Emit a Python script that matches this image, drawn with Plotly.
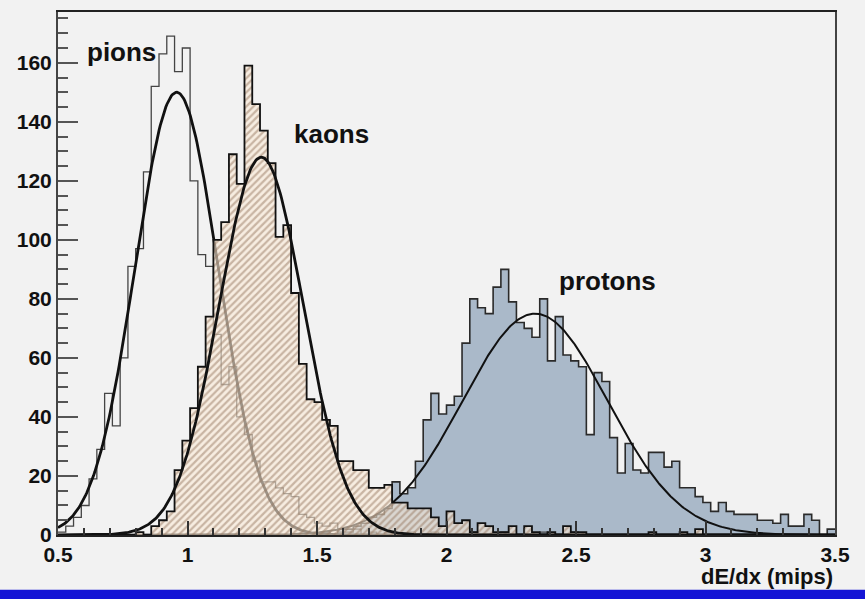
import numpy as np
import plotly.graph_objects as go

# histogram binning: 100 bins from 0.5 to 3.5 (dE/dx in mips)
x_min, x_max, n_bins = 0.5, 3.5, 100

# counts per bin
pions = [1, 3, 6, 10, 19, 29, 48, 37, 60, 91,
         97, 123, 152, 163, 169, 157, 165, 120, 95, 91,
         68, 51, 57, 40, 34, 25, 18, 18, 16, 14,
         13, 7, 6, 4, 3, 4, 1, 1, 2, 0,
         1, 0, 1, 0, 0, 1, 0, 0, 1, 0,
         0, 0, 0, 1, 0, 0, 0, 1, 0, 0,
         0, 0, 1, 0, 0, 0, 1, 0, 0, 0,
         0, 0, 0, 0, 0, 0, 0, 0, 0, 0,
         0, 0, 0, 0, 0, 0, 0, 0, 0, 0,
         0, 0, 0, 0, 0, 0, 0, 0, 0, 0]
kaons = [0, 0, 0, 0, 0, 0, 0, 0, 0, 0,
         1, 0, 3, 5, 8, 22, 32, 43, 57, 74,
         100, 106, 129, 119, 159, 146, 137, 126, 101, 105,
         82, 58, 46, 45, 39, 37, 25, 25, 22, 22,
         16, 16, 17, 11, 11, 9, 9, 9, 6, 3,
         8, 4, 5, 1, 4, 3, 1, 1, 3, 0,
         3, 1, 0, 1, 0, 3, 1, 1, 0, 0,
         0, 0, 0, 0, 0, 0, 1, 0, 0, 0,
         1, 0, 2, 0, 0, 0, 0, 0, 0, 0,
         0, 0, 0, 0, 0, 0, 0, 0, 0, 0]
protons = [0, 0, 0, 0, 0, 0, 0, 0, 0, 0,
           0, 0, 0, 0, 0, 0, 0, 0, 0, 0,
           0, 0, 0, 0, 0, 0, 0, 0, 0, 0,
           0, 0, 0, 0, 1, 0, 2, 2, 3, 4,
           6, 7, 9, 18, 14, 16, 25, 39, 48, 41,
           44, 47, 65, 80, 77, 75, 84, 90, 79, 72,
           70, 67, 80, 59, 74, 61, 59, 57, 34, 55,
           52, 33, 21, 31, 22, 21, 28, 28, 23, 25,
           16, 16, 13, 11, 8, 11, 8, 7, 7, 7,
           5, 5, 4, 7, 3, 3, 7, 5, 0, 2]

# gaussian fit parameters (amplitude, mean, sigma)
pion_fit = [150, 0.958, 0.160]
kaon_fit = [128, 1.285, 0.163]
proton_fit = [75, 2.342, 0.280]

labels = ["pions", "kaons", "protons"]
label_x = [0.747, 1.555, 2.62]
label_y = [163.5, 136, 86]

y_ticks = [0, 20, 40, 60, 80, 100, 120, 140, 160]
x_ticks = [0.5, 1, 1.5, 2, 2.5, 3, 3.5]
x_ticktext = ["0.5", "1", "1.5", "2", "2.5", "3", "3.5"]

edges = np.linspace(x_min, x_max, n_bins + 1)
xf = np.linspace(x_min, x_max, 700)


def steps(counts):
    return list(counts) + [counts[-1]]


def gaus(p):
    return p[0] * np.exp(-0.5 * ((xf - p[1]) / p[2]) ** 2)


fig = go.Figure()

# protons: filled blue-grey
fig.add_trace(go.Scatter(x=edges, y=steps(protons), mode="lines", line_shape="hv",
                         fill="tozeroy", fillcolor="#aab9c9",
                         line=dict(color="#2a2a2a", width=1.6)))
# pions: outline only
fig.add_trace(go.Scatter(x=edges, y=steps(pions), mode="lines", line_shape="hv",
                         line=dict(color="#444444", width=1.3)))
fig.add_trace(go.Scatter(x=xf, y=gaus(pion_fit), mode="lines",
                         line=dict(color="#111111", width=2.8)))
fig.add_trace(go.Scatter(x=xf, y=gaus(proton_fit), mode="lines",
                         line=dict(color="#111111", width=2)))
# kaons: hatched
fig.add_trace(go.Scatter(x=edges, y=steps(kaons), mode="lines", line_shape="hv",
                         fill="tozeroy", fillcolor="rgba(248,232,212,0.55)",
                         fillpattern=dict(shape="/", fgcolor="#9a7b64", bgcolor="rgba(250,234,214,0.6)",
                                          size=5, solidity=0.45, fillmode="overlay"),
                         line=dict(color="#111111", width=1.8)))
fig.add_trace(go.Scatter(x=xf, y=gaus(kaon_fit), mode="lines",
                         line=dict(color="#111111", width=2.8)))

for t, lx, ly in zip(labels, label_x, label_y):
    fig.add_annotation(x=lx, y=ly, text=t, showarrow=False,
                       font=dict(family="Liberation Sans", size=26, color="#111111", weight="bold"))

fig.add_annotation(xref="paper", yref="paper", x=1, y=-0.08, xanchor="right", yanchor="middle",
                   text="dE/dx (mips)", showarrow=False,
                   font=dict(family="Liberation Sans", size=22, color="#111111", weight="bold"))

# blue stripe at the bottom of the page
fig.add_shape(type="rect", xref="paper", yref="paper", x0=-0.1, x1=1.1, y0=-0.13, y1=-0.1048,
              fillcolor="#1515d5", line_width=0, layer="above")

tick_font = dict(family="Liberation Sans", size=21, color="#111111", weight="bold")
fig.update_xaxes(range=[x_min, x_max], tickvals=x_ticks, ticktext=x_ticktext,
                 ticks="inside", ticklen=14, tickwidth=1.5, tickcolor="#333333",
                 minor=dict(dtick=0.1, ticks="inside", ticklen=7, tickcolor="#333333"),
                 showline=True, linecolor="#222222", linewidth=2, mirror=True,
                 showgrid=False, zeroline=False, tickfont=tick_font)
fig.update_yaxes(range=[0, 177.2], tickvals=y_ticks,
                 ticks="inside", ticklen=20, tickwidth=1.5, tickcolor="#555555",
                 minor=dict(dtick=5, ticks="inside", ticklen=10, tickcolor="#555555"),
                 showline=True, linecolor="#444444", linewidth=2, mirror=True,
                 showgrid=False, zeroline=False, tickfont=tick_font)

fig.update_layout(width=865, height=599, showlegend=False,
                  margin=dict(l=58, r=30, t=10, b=64),
                  paper_bgcolor="#f2f2f2", plot_bgcolor="#f2f2f2",
                  font=dict(family="Liberation Sans"))

# drop the default page margin so the figure fills the window
fig.write_html("out.html", config={"displayModeBar": False},
               post_script="document.body.style.margin='0';document.body.style.background='#f2f2f2';")
